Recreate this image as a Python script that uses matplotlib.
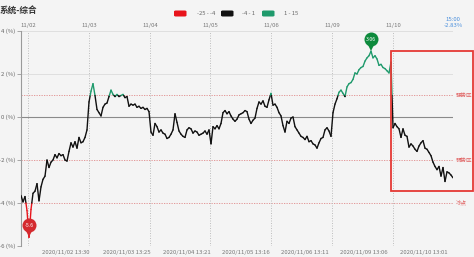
import numpy as np
import matplotlib
matplotlib.use("Agg")
import matplotlib.pyplot as plt
from matplotlib.collections import LineCollection
from matplotlib.patches import Rectangle, FancyBboxPatch
import matplotlib.transforms as mtrans

plt.rcParams['font.family'] = ['Noto Sans CJK SC', 'DejaVu Sans']

# ---------------- data ----------------
title = "系统-综合"
values = [
    # 11/02
    -3.65, -3.95, -3.7, -4.35, -5.6, -4.3, -3.55, -3.45, -3.1, -3.9,
    -3.25, -2.9, -2.75, -2.0, -2.35, -2.1, -2.0, -1.75, -1.9, -1.7,
    -1.8, -1.75, -2.0, -2.05, -1.6, -1.2, -1.4, -1.15, -1.45, -0.95,
    -1.2, -1.15, -0.95, -0.6, 0.7,
    # 11/03
    1.2, 1.55, 1.0, 0.35, 0.2, 0.05, 0.45, 0.6, 0.65, 0.95,
    1.25, 1.05, 0.95, 1.05, 0.95, 1.0, 1.05, 0.9, 0.95, 0.5,
    0.6, 0.55, 0.6, 0.45, 0.5, 0.4, 0.45, 0.35, 0.4, 0.25,
    # 11/04
    -0.7, -0.85, -0.3, -0.45, -0.7, -0.6, -0.75, -0.8, -1.0, -0.95,
    -0.8, -0.6, 0.15, -0.25, -0.65, -0.8, -0.9, -0.95, -0.6, -0.5,
    -0.55, -0.75, -0.65, -0.7, -0.85, -0.8, -0.75, -0.65, -0.8, -0.6,
    # 11/05
    -1.25, -0.45, -0.55, -0.4, -0.55, -0.3, 0.2, 0.3, 0.15, 0.25,
    0.05, -0.1, -0.2, -0.1, 0.1, 0.15, 0.2, 0.3, 0.25, -0.1,
    -0.3, -0.15, -0.05, 0.4, 0.7, 0.6, 0.75, 0.5, 0.45, 0.8,
    # 11/06
    1.1, 0.55, 0.6, 0.45, 0.2, 0.05, -0.4, -0.7, -0.2, -0.3,
    -0.05, 0.0, -0.45, -0.6, -0.75, -0.9, -0.95, -1.05, -0.9, -1.15,
    -1.1, -1.25, -1.3, -1.45, -1.2, -1.0, -0.95, -0.6, -0.5, -0.65,
    # 11/09
    -0.9, 0.2, 0.6, 0.85, 1.15, 1.25, 1.1, 0.95, 1.4, 1.55,
    1.6, 1.75, 2.05, 2.0, 2.2, 2.3, 2.35, 2.6, 2.75, 2.85,
    3.06, 2.75, 2.85, 2.7, 2.4, 2.45, 2.3, 2.25, 2.15, 2.05,
    # 11/10
    2.55, -0.5, -0.3, -0.45, -0.55, -0.95, -0.55, -0.85, -0.9, -1.4,
    -1.25, -1.35, -1.5, -1.6, -1.35, -1.2, -1.1, -1.45, -1.5, -1.65,
    -1.8, -2.1, -2.3, -2.45, -2.3, -2.75, -2.35, -3.0, -2.55, -2.6,
    -2.7, -2.83,
]
day_labels = ["11/02", "11/03", "11/04", "11/05", "11/06", "11/09", "11/10"]
day_pos = [3.5, 34, 64.5, 94.5, 125, 155.5, 186]
end_pos = 216
time_labels = ["2020/11/02 13:30", "2020/11/03 13:25", "2020/11/04 13:21",
               "2020/11/05 13:16", "2020/11/06 13:11", "2020/11/09 13:06",
               "2020/11/10 13:01"]
time_pos = [22.5, 52.75, 82.85, 112.5, 141.75, 171.5, 201.5]
end_time = "15:00"
end_value = "-2.83%"
yticks = [4, 2, 0, -2, -4, -6]
zone_levels = [1, -2, -4]
zone_labels = ["强势区", "弱势区", "冰点"]
bins = [-25, -4, 1, 15]
bin_labels = ["-25 - -4", "-4 - 1", "1 - 15"]
bin_colors = ["#e8141b", "#111111", "#1f9a6c"]
min_label = "-5.6"
max_label = "3.06"

# ---------------- figure ----------------
W, H = 474, 257
BG = "#f4f4f4"
fig = plt.figure(figsize=(W / 100, H / 100), dpi=100, facecolor=BG)
ax = fig.add_axes([21 / W, 11 / H, 432 / W, 215 / H], facecolor=BG)
ax.set_xlim(0, end_pos)
ax.set_ylim(-6, 4)

for s in ["top", "right", "bottom"]:
    ax.spines[s].set_visible(False)
ax.spines["left"].set_color("#9a9a9a")
ax.spines["left"].set_linewidth(0.8)
ax.set_xticks([])
ax.set_yticks(yticks)
ax.set_yticklabels([f"{v} (%)" for v in yticks])
ax.tick_params(axis="y", length=3, width=0.6, color="#9a9a9a",
               labelsize=4.3, labelcolor="#666666", pad=1)

# grid
for v in [4, 2, -6]:
    ax.axhline(v, color="#dcdcdc", lw=0.6, zorder=1)
ax.axhline(0, color="#8a8a8a", lw=0.8, zorder=1)
for v, lab in zip(zone_levels, zone_labels):
    ax.axhline(v, color="#e08a8a", lw=0.6, ls=(0, (1.5, 1.5)), zorder=1)
    ax.text(end_pos + 1.2, v, lab, fontsize=4, color="#e06060",
            ha="left", va="center", clip_on=False)
for p in day_pos:
    ax.axvline(p, color="#b8b8b8", lw=0.6, ls=(0, (1.2, 1.8)), zorder=1)
ax.axvline(end_pos, color="#7aaee6", lw=0.6, ls=(0, (1.2, 1.8)), zorder=1)

# top and bottom labels
top_tr = mtrans.blended_transform_factory(ax.transData, fig.transFigure)
for p, lab in zip(day_pos, day_labels):
    ax.text(p, 1 - 25 / H, lab, transform=top_tr, fontsize=4.3,
            color="#777777", ha="center", va="center")
ax.text(end_pos, 1 - 19.5 / H, end_time, transform=top_tr, fontsize=4.3,
        color="#4a8fdc", ha="center", va="center")
ax.text(end_pos, 1 - 25.5 / H, end_value, transform=top_tr, fontsize=4.3,
        color="#4a8fdc", ha="center", va="center")
for p, lab in zip(time_pos, time_labels):
    ax.text(p, 1 - 252.5 / H, lab, transform=top_tr, fontsize=4.3,
            color="#777777", ha="center", va="center")

# coloured line, split at bin edges
x = np.arange(len(values))
y = np.array(values, dtype=float)
segs, cols = [], []
for i in range(len(y) - 1):
    x0, y0, x1, y1 = x[i], y[i], x[i + 1], y[i + 1]
    cuts = [0.0, 1.0]
    for b in bins[1:-1]:
        if (y0 - b) * (y1 - b) < 0:
            cuts.append((b - y0) / (y1 - y0))
    cuts = sorted(cuts)
    for a, c in zip(cuts[:-1], cuts[1:]):
        pa = (x0 + a * (x1 - x0), y0 + a * (y1 - y0))
        pc = (x0 + c * (x1 - x0), y0 + c * (y1 - y0))
        ym = (pa[1] + pc[1]) / 2
        k = int(np.searchsorted(bins, ym) - 1)
        k = min(max(k, 0), 2)
        segs.append([pa, pc])
        cols.append(bin_colors[k])
lc = LineCollection(segs, colors=cols, linewidths=1.0, zorder=3,
                    capstyle="round", joinstyle="round")
ax.add_collection(lc)

# pins for min and max
def pin(ix, color, label):
    px = 1 / 100 * 72  # points per pixel
    t_circ = mtrans.offset_copy(ax.transData, fig=fig, x=0, y=12 * px, units="points")
    t_tri = mtrans.offset_copy(ax.transData, fig=fig, x=0, y=4.5 * px, units="points")
    ax.plot([x[ix]], [y[ix]], marker="v", ms=7.5 * px, color=color,
            transform=t_tri, zorder=5, clip_on=False, mew=0)
    ax.plot([x[ix]], [y[ix]], marker="o", ms=14 * px, color=color,
            transform=t_circ, zorder=6, clip_on=False, mew=0)
    ax.text(x[ix], y[ix], label, transform=t_circ, fontsize=3.8,
            color="white", ha="center", va="center", zorder=7)

imin = int(np.argmin(y))
imax = int(np.argmax(y))
pin(imin, "#d42a2f", min_label)
pin(imax, "#0d8a3c", max_label)

# title
fig.text(0 / W, 1 - 10 / H, title, fontsize=6.2, fontweight="bold",
         color="#333333", ha="left", va="center")

# legend
leg_x = [174, 221, 262]
txt_x = [197, 242, 284]
for lx, tx, lab, col in zip(leg_x, txt_x, bin_labels, bin_colors):
    fig.add_artist(FancyBboxPatch((lx / W, 1 - 16.5 / H), 12.5 / W, 6 / H,
                                  boxstyle="round,pad=0,rounding_size=0.004",
                                  transform=fig.transFigure, fc=col, ec="none"))
    fig.text(tx / W, 1 - 13.5 / H, lab, fontsize=4.2, color="#666666",
             ha="left", va="center")

# highlight box
fig.add_artist(Rectangle((391 / W, 1 - 191 / H), 82 / W, 140 / H,
                         transform=fig.transFigure, fill=False,
                         ec="#e53935", lw=1.3))

fig.savefig("out.png", dpi=100, facecolor=BG)
